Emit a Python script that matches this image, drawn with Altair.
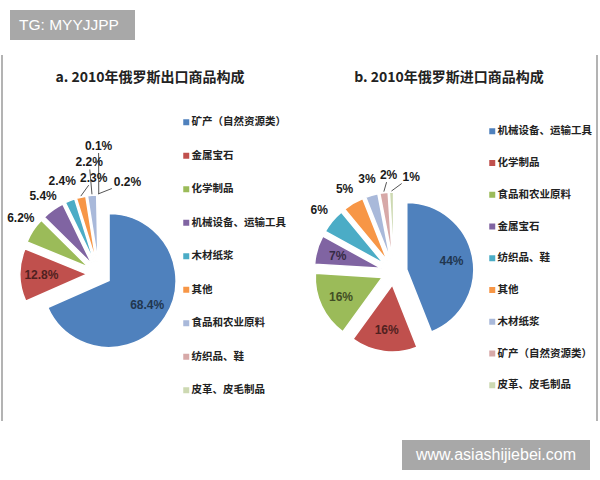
import math
import altair as alt
import pandas as pd

# ---------------- data ----------------
export_categories = ["矿产（自然资源类）", "金属宝石", "化学制品", "机械设备、运输工具", "木材纸浆",
                     "其他", "食品和农业原料", "纺织品、鞋", "皮革、皮毛制品"]
export_values = [68.4, 12.8, 6.2, 5.4, 2.4, 2.3, 2.2, 0.2, 0.1]

import_categories = ["机械设备、运输工具", "化学制品", "食品和农业原料", "金属宝石", "纺织品、鞋",
                     "其他", "木材纸浆", "矿产（自然资源类）", "皮革、皮毛制品"]
import_values = [44, 16, 16, 7, 6, 5, 3, 2, 1]

chart_titles = ["a. 2010年俄罗斯出口商品构成", "b. 2010年俄罗斯进口商品构成"]
watermarks = ["TG: MYYJJPP", "www.asiashijiebei.com"]

# ---------------- styles ----------------
slice_colors = ["#4F81BD", "#C0504D", "#9BBB59", "#8064A2", "#4BACC6",
                "#F79646", "#A9B9DA", "#D7A9A8", "#CDD9B2"]
FONT_CJK = "Noto Sans CJK SC"
FONT_NUM = "Liberation Sans, Arial, sans-serif"
FONT_WM = "Liberation Sans, Arial, sans-serif"
NUM_SIZE = 12


def darken(hex_color, f):
    h = hex_color.lstrip("#")
    r, g, b = (int(h[i:i + 2], 16) for i in (0, 2, 4))
    return "#{:02x}{:02x}{:02x}".format(int(r * f), int(g * f), int(b * f))


def text_width(s):
    w = 0.0
    for ch in s:
        if ch.isdigit():
            w += 0.556 * NUM_SIZE
        elif ch == ".":
            w += 0.278 * NUM_SIZE
        elif ch == "%":
            w += 0.889 * NUM_SIZE
        else:
            w += 0.6 * NUM_SIZE
    return w


def overlap(b1, b2):
    return not (b1[1] <= b2[0] or b2[1] <= b1[0] or b1[3] <= b2[2] or b2[3] <= b1[2])


def place_labels(texts, mids, cx, cy, r_out, xmin, xmax):
    """greedy placement of outside labels near their slice, avoiding overlaps;
    clockwise shifts are preferred over counter-clockwise ones"""
    placed, out = [], []
    h = NUM_SIZE + 2
    for t, mid in zip(texts, mids):
        w = text_width(t) + 4
        best = None
        for j in range(0, 16):
            R = r_out + j * 4
            for k in range(-16, 17):
                a = math.radians(mid + k * 2.0)
                x = cx + R * math.sin(a)
                y = cy - R * math.cos(a)
                box = (x - w / 2, x + w / 2, y - h / 2, y + h / 2)
                if box[0] < xmin or box[1] > xmax:
                    continue
                if any(overlap(box, b) for b in placed):
                    continue
                ang_px = abs(R * math.radians(k * 2.0))
                if k < 0:
                    ang_px *= 2.5
                cost = ang_px + 1.5 * (R - r_out)
                if best is None or cost < best[0]:
                    best = (cost, x, y, box)
        placed.append(best[3])
        out.append((best[1], best[2], w / 2, h / 2))
    return out


def pie_panel(cats, vals, fmt, cx, cy, r, d, xmin, xmax, legend_x, legend_y, row_pad):
    total = sum(vals)
    n = len(vals)
    base = pd.DataFrame({"category": cats, "value": vals, "idx": list(range(n))})
    theta_scale = alt.Scale(domain=[0, total], range=[0, 2 * math.pi])

    arcs = (
        alt.Chart(base)
        .transform_window(end="sum(value)", sort=[alt.SortField("idx")], frame=[None, 0])
        .transform_calculate(start="datum.end - datum.value")
        .transform_calculate(mid=f"(datum.start + datum.end) * PI / {total}")
        .transform_calculate(ax=f"{cx} + {d} * sin(datum.mid)")
        .transform_calculate(ay=f"{cy} - {d} * cos(datum.mid)")
        .mark_arc(radius=r, stroke="white", strokeWidth=1.5)
        .encode(
            x=alt.X("ax:Q", scale=None),
            y=alt.Y("ay:Q", scale=None),
            theta=alt.Theta("start:Q", scale=theta_scale, stack=False),
            theta2=alt.Theta2("end:Q"),
            color=alt.Color(
                "category:N",
                scale=alt.Scale(domain=cats, range=slice_colors),
                legend=alt.Legend(
                    orient="none", legendX=legend_x, legendY=legend_y, title=None,
                    symbolType="square", symbolSize=36, symbolStrokeWidth=0,
                    labelFont=FONT_CJK, labelFontSize=10.5, labelFontWeight="bold",
                    labelColor="#222222", rowPadding=row_pad, labelOffset=0, padding=0,
                    labelLimit=200,
                ),
            ),
        )
    )

    # label layout derived from the values
    mids, cum = [], 0.0
    for v in vals:
        mids.append((cum + v / 2) / total * 360.0)
        cum += v
    inside = [v >= 7 for v in vals]
    texts = [fmt.format(v) for v in vals]
    r_out = r + d + 17
    out_idx = [i for i in range(n) if not inside[i]]
    spots = place_labels([texts[i] for i in out_idx], [mids[i] for i in out_idx],
                         cx, cy, r_out, xmin, xmax)
    rows = []
    k = 0
    for i in range(n):
        m = math.radians(mids[i])
        if inside[i]:
            rad = d + 0.68 * r
            rows.append(dict(text=texts[i], lx=cx + rad * math.sin(m), ly=cy - rad * math.cos(m),
                             tcolor=darken(slice_colors[i], 0.42), lead=False,
                             x1=0.0, y1=0.0, x2=0.0, y2=0.0))
            continue
        lx, ly, hw, hh = spots[k]
        k += 1
        nx = cx + r_out * math.sin(m)
        ny = cy - r_out * math.cos(m)
        moved = math.hypot(lx - nx, ly - ny) > 6
        sx = cx + (d + r + 1) * math.sin(m)
        sy = cy - (d + r + 1) * math.cos(m)
        vx, vy = lx - sx, ly - sy
        f = min(hw / abs(vx) if abs(vx) > 1e-6 else 1e9, hh / abs(vy) if abs(vy) > 1e-6 else 1e9)
        f = min(f, 1.0)
        rows.append(dict(text=texts[i], lx=lx, ly=ly, tcolor="#1a1a1a", lead=moved,
                         x1=sx, y1=sy, x2=lx - vx * f, y2=ly - vy * f))
    ldf = pd.DataFrame(rows)

    labels = (
        alt.Chart(ldf)
        .mark_text(font=FONT_NUM, fontSize=NUM_SIZE, fontWeight="bold", align="center", baseline="middle")
        .encode(
            x=alt.X("lx:Q", scale=None),
            y=alt.Y("ly:Q", scale=None),
            text="text:N",
            color=alt.Color("tcolor:N", scale=None, legend=None),
        )
    )
    leaders = (
        alt.Chart(ldf[ldf["lead"]])
        .mark_rule(color="#555555", strokeWidth=1)
        .encode(
            x=alt.X("x1:Q", scale=None), y=alt.Y("y1:Q", scale=None),
            x2="x2:Q", y2="y2:Q",
        )
    )
    return [arcs, leaders, labels]


one = pd.DataFrame({"k": [0]})

frame = [
    alt.Chart(one).mark_rule(color="#9a9a9a", strokeWidth=1.5).encode(
        x=alt.value(2), y=alt.value(55), y2=alt.value(421)),
    alt.Chart(one).mark_rule(color="#9a9a9a", strokeWidth=1.5).encode(
        x=alt.value(597), y=alt.value(55), y2=alt.value(421)),
]

titles = [
    alt.Chart(pd.DataFrame({"t": [chart_titles[0]]})).mark_text(
        font=FONT_CJK, fontSize=14, fontWeight="bold", color="#222222", align="center", baseline="middle"
    ).encode(text="t:N", x=alt.value(150), y=alt.value(78)),
    alt.Chart(pd.DataFrame({"t": [chart_titles[1]]})).mark_text(
        font=FONT_CJK, fontSize=14, fontWeight="bold", color="#222222", align="center", baseline="middle"
    ).encode(text="t:N", x=alt.value(449), y=alt.value(78)),
]

wm = [
    alt.Chart(one).mark_rect(color="#a8a8a8").encode(
        x=alt.value(10), x2=alt.value(135), y=alt.value(10), y2=alt.value(40)),
    alt.Chart(pd.DataFrame({"t": [watermarks[0]]})).mark_text(
        font=FONT_WM, fontSize=15.5, color="white", align="left", baseline="middle"
    ).encode(text="t:N", x=alt.value(19), y=alt.value(25)),
    alt.Chart(one).mark_rect(color="#a8a8a8").encode(
        x=alt.value(402), x2=alt.value(590), y=alt.value(440), y2=alt.value(470)),
    alt.Chart(pd.DataFrame({"t": [watermarks[1]]})).mark_text(
        font=FONT_WM, fontSize=16, color="white", align="center", baseline="middle"
    ).encode(text="t:N", x=alt.value(496), y=alt.value(455)),
]

left = pie_panel(export_categories, export_values, "{:.1f}%", 99, 274, 67, 12,
                 5, 178, 181, 117, 22.5)
right = pie_panel(import_categories, import_values, "{:.0f}%", 394, 272, 67, 13,
                  304, 484, 487, 126, 20.75)

chart = (
    alt.layer(*frame, *titles, *left, *right, *wm)
    .resolve_scale(color="independent")
    .properties(width=600, height=480, padding=0,
                autosize=alt.AutoSizeParams(type="none"), background="white")
    .configure_view(strokeWidth=0)
)

chart.save("out.html", embed_options={"renderer": "svg", "actions": False})
